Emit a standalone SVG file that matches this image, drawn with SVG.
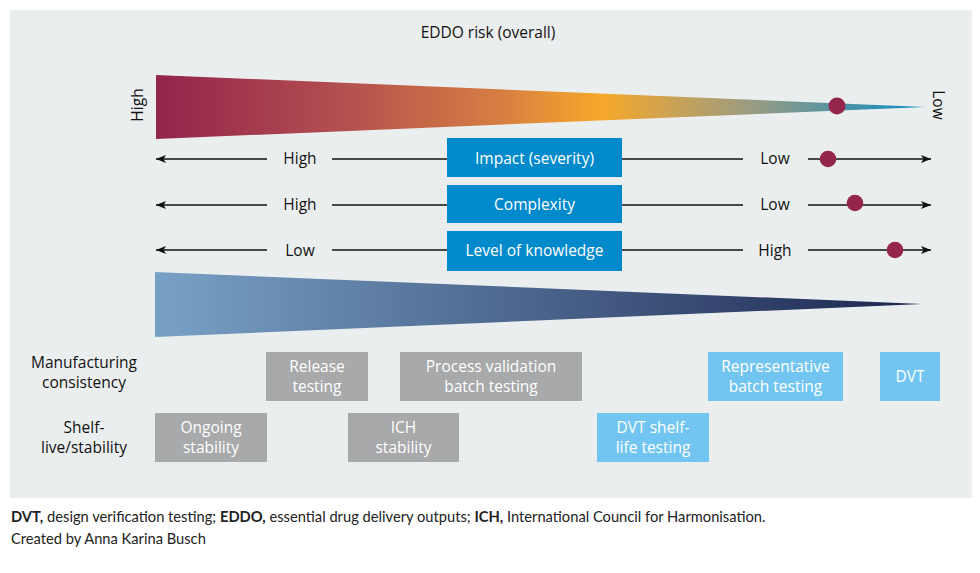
<svg xmlns="http://www.w3.org/2000/svg" width="980" height="573" viewBox="0 0 980 573">
<style>
.t{font-family:"Open Sans","Noto Sans","Liberation Sans",sans-serif;fill:#111;font-size:15.5px}
.w{font-family:"Open Sans","Noto Sans","Liberation Sans",sans-serif;fill:#fff;font-size:15.5px;text-anchor:middle}
.c{text-anchor:middle}
.ln{stroke:#111;stroke-width:1.3;fill:none}
.blue{fill:#008ACB}
.gray{fill:#A7A9AA}
.lb{fill:#72C5F0}
.dot{fill:#94264B}
.f{font-family:Lato,"Liberation Sans",sans-serif;font-size:14.7px;fill:#222}
</style>
<defs>
<linearGradient id="g1" gradientUnits="userSpaceOnUse" x1="156" y1="0" x2="925" y2="0">
<stop offset="0" stop-color="#93244C"/>
<stop offset="0.25" stop-color="#B3514F"/>
<stop offset="0.45" stop-color="#D77F42"/>
<stop offset="0.58" stop-color="#F6A82A"/>
<stop offset="0.77" stop-color="#9C9C80"/>
<stop offset="1" stop-color="#0A8CC8"/>
</linearGradient>
<linearGradient id="g2" gradientUnits="userSpaceOnUse" x1="155" y1="0" x2="922" y2="0">
<stop offset="0" stop-color="#79A1C6"/>
<stop offset="1" stop-color="#1C2650"/>
</linearGradient>
<marker id="ah" viewBox="0 0 10 8" refX="10" refY="4" markerWidth="10" markerHeight="8" markerUnits="userSpaceOnUse" orient="auto">
<path d="M0,0 L10,4 L0,8 L2.5,4 Z" fill="#111"/>
</marker>
</defs>
<rect x="10" y="10" width="962" height="488" fill="#EBEEEF"/>
<text class="t c" x="488" y="38">EDDO risk (overall)</text>
<g id="risk-bar">
<polygon points="156,75 925,107 156,139" fill="url(#g1)"/>
<circle class="dot" cx="837" cy="106" r="8.5"/>
<text class="t c" transform="translate(143,105) rotate(-90)">High</text>
<text class="t c" transform="translate(933,105) rotate(90)">Low</text>
</g>
<g id="connectors">
<line class="ln" x1="267" y1="159" x2="156" y2="159" marker-end="url(#ah)"/>
<line class="ln" x1="332" y1="159" x2="447" y2="159"/>
<line class="ln" x1="622" y1="159" x2="743" y2="159"/>
<line class="ln" x1="808" y1="159" x2="931" y2="159" marker-end="url(#ah)"/>
<line class="ln" x1="267" y1="205" x2="156" y2="205" marker-end="url(#ah)"/>
<line class="ln" x1="332" y1="205" x2="447" y2="205"/>
<line class="ln" x1="622" y1="205" x2="743" y2="205"/>
<line class="ln" x1="808" y1="205" x2="931" y2="205" marker-end="url(#ah)"/>
<line class="ln" x1="267" y1="250" x2="156" y2="250" marker-end="url(#ah)"/>
<line class="ln" x1="332" y1="250" x2="447" y2="250"/>
<line class="ln" x1="622" y1="250" x2="743" y2="250"/>
<line class="ln" x1="808" y1="250" x2="931" y2="250" marker-end="url(#ah)"/>
</g>
<g id="impact">
<rect class="blue" x="447" y="138" width="175" height="39"/>
<text class="w" x="534.5" y="164">Impact (severity)</text>
<text class="t c" x="300" y="164">High</text>
<text class="t c" x="775" y="164">Low</text>
<circle class="dot" cx="828" cy="159" r="8.3"/>
</g>
<g id="complexity">
<rect class="blue" x="447" y="185" width="175" height="38"/>
<text class="w" x="534.5" y="210">Complexity</text>
<text class="t c" x="300" y="210">High</text>
<text class="t c" x="775" y="210">Low</text>
<circle class="dot" cx="855" cy="203" r="8.3"/>
</g>
<g id="knowledge">
<rect class="blue" x="447" y="231" width="175" height="40"/>
<text class="w" x="534.5" y="256">Level of knowledge</text>
<text class="t c" x="300" y="256">Low</text>
<text class="t c" x="775" y="256">High</text>
<circle class="dot" cx="895" cy="250" r="8.3"/>
</g>
<g id="knowledge-bar">
<polygon points="155,272 922,304 155,337" fill="url(#g2)"/>
</g>
<g id="row-labels">
<text class="t c" x="84" y="368">Manufacturing</text>
<text class="t c" x="84" y="388">consistency</text>
<text class="t c" x="84" y="433">Shelf-</text>
<text class="t c" x="84" y="453">live/stability</text>
</g>
<g id="release-testing">
<rect class="gray" x="266" y="352" width="102" height="49"/>
<text class="w" x="317" y="372">Release</text>
<text class="w" x="317" y="392">testing</text>
</g>
<g id="process-validation">
<rect class="gray" x="400" y="352" width="182" height="49"/>
<text class="w" x="491" y="372">Process validation</text>
<text class="w" x="491" y="392">batch testing</text>
</g>
<g id="representative">
<rect class="lb" x="708" y="352" width="135" height="49"/>
<text class="w" x="775.5" y="372">Representative</text>
<text class="w" x="775.5" y="392">batch testing</text>
</g>
<g id="dvt">
<rect class="lb" x="880" y="352" width="60" height="49"/>
<text class="w" x="910" y="382">DVT</text>
</g>
<g id="ongoing-stability">
<rect class="gray" x="155" y="413" width="112" height="49"/>
<text class="w" x="211" y="433">Ongoing</text>
<text class="w" x="211" y="453">stability</text>
</g>
<g id="ich-stability">
<rect class="gray" x="348" y="413" width="111" height="49"/>
<text class="w" x="403.5" y="433">ICH</text>
<text class="w" x="403.5" y="453">stability</text>
</g>
<g id="dvt-shelf-life">
<rect class="lb" x="597" y="413" width="112" height="49"/>
<text class="w" x="653" y="433">DVT shelf-</text>
<text class="w" x="653" y="453">life testing</text>
</g>
<text class="f" x="11" y="522"><tspan font-weight="bold">DVT,</tspan> design verification testing; <tspan font-weight="bold">EDDO,</tspan> essential drug delivery outputs; <tspan font-weight="bold">ICH,</tspan> International Council for Harmonisation.</text>
<text class="f" x="11" y="544">Created by Anna Karina Busch</text>
</svg>
